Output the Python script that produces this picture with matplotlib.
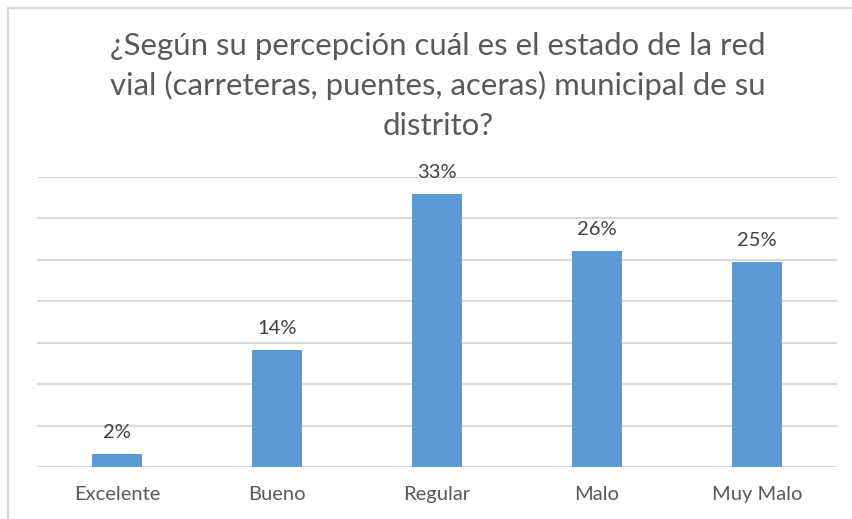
import numpy as np
import matplotlib.pyplot as plt
from matplotlib.patches import Rectangle

categorias = ["Excelente", "Bueno", "Regular", "Malo", "Muy Malo"]
valores = [1.6, 14.1, 33.0, 26.1, 24.8]
etiquetas = ["2%", "14%", "33%", "26%", "25%"]
titulo = ["¿Según su percepción cuál es el estado de la red",
          "vial (carreteras, puentes, aceras) municipal de su",
          "distrito?"]

plt.rcParams['font.family'] = ['Lato', 'DejaVu Sans']

fig = plt.figure(figsize=(8.52, 5.19), dpi=100)
ax = fig.add_axes([37/852, 1 - 467/519, 800/852, 290/519])

# borde del gráfico (solo se ve arriba e izquierda)
fig.patches.append(Rectangle((8/852, -0.1), 1.2, 1 - 8/519 + 0.1, transform=fig.transFigure,
                             fill=False, edgecolor='#D9D9D9', linewidth=1.5))

x = np.arange(len(categorias))
ax.bar(x, valores, width=0.31, color='#5B9BD5', zorder=2)

for xi, v, lab in zip(x, valores, etiquetas):
    ax.annotate(lab, (xi, v), xytext=(0, 16), textcoords='offset pixels',
                ha='center', va='baseline', fontsize=14.5, color='#404040')

ax.set_xlim(-0.5, len(categorias) - 0.5)
ax.set_ylim(0, 35)
ax.set_yticks(np.arange(0, 36, 5))
ax.yaxis.grid(True, color='#D9D9D9', linewidth=1.5)
ax.set_axisbelow(True)
ax.tick_params(axis='y', left=False, labelleft=False)
ax.tick_params(axis='x', length=0, pad=14, labelsize=14.5, labelcolor='#595959')
ax.set_xticks(x)
ax.set_xticklabels(categorias)
for s in ax.spines.values():
    s.set_visible(False)

for i, linea in enumerate(titulo):
    fig.text(438/852, 1 - (55 + 40 * i)/519, linea, ha='center', va='baseline',
             fontsize=22.4, color='#595959')

fig.savefig('out.png', dpi=100)
